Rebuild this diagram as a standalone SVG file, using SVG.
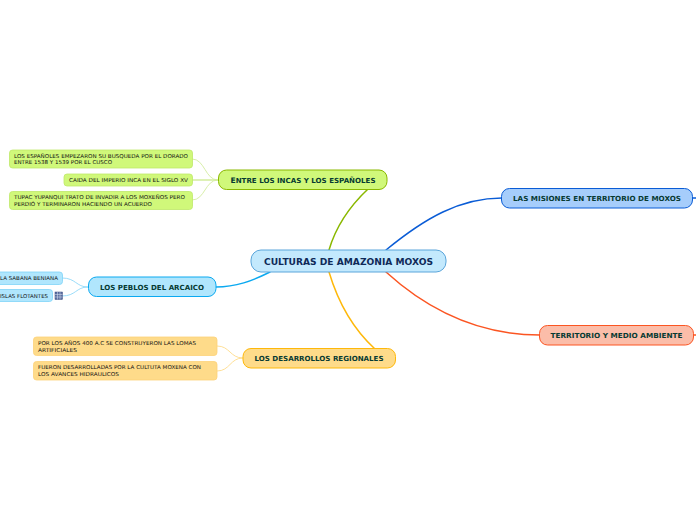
<svg xmlns="http://www.w3.org/2000/svg" width="696" height="520" viewBox="0 0 696 520">
<style>
text{font-family:"DejaVu Sans",Verdana,sans-serif}
.m{font-weight:bold;fill:#063a32;font-size:7px;text-anchor:middle}
.l{font-size:5.300px;fill:#111}
.c{fill:none;stroke-width:1.5;stroke-linecap:round}
.t{fill:none;stroke-width:.9}
.n{stroke-width:1}
.s{stroke-width:.8}
</style>
<rect width="696" height="520" fill="#fff"/>
<g id="connectors">
<path class="c" stroke="#8ab800" d="M329 250C336 226 350 206 368 189"/>
<path class="c" stroke="#0a5cd6" d="M386 250C425 218 460 198 502 198"/>
<path class="c" stroke="#0a5cd6" d="M692.500 198H696"/>
<path class="c" stroke="#fb5522" d="M386 272C430 312 480 335 540 335"/>
<path class="c" stroke="#fb5522" d="M693.500 335H696"/>
<path class="c" stroke="#feb80a" d="M329 272C338 302 352 328 375 349"/>
<path class="c" stroke="#0ba9f0" d="M270 272C252 281 236 287 216 287"/>
<path class="t" stroke="#d3ec9e" d="M218 180C205 180 205 159 192 159"/>
<path class="t" stroke="#d3ec9e" style="stroke-width:1.500" d="M218 180H192"/>
<path class="t" stroke="#d3ec9e" d="M218 180C205 180 205 200 192 200"/>
<path class="t" stroke="#8fd8f8" d="M88 287C76 287 76 278 62 278"/>
<path class="t" stroke="#8fd8f8" d="M88 287C76 287 76 296 62 296"/>
<path class="t" stroke="#fedb8a" d="M243 358C230 358 230 346 217 346"/>
<path class="t" stroke="#fedb8a" d="M243 358C230 358 230 371 217 371"/>
</g>
<g id="central"><rect class="n" x="251" y="250" width="195" height="22" rx="10" fill="#c3e9fd" stroke="#5aa5da"/>
<text x="348.500" y="265" text-anchor="middle" font-weight="bold" font-size="8.100" fill="#0f2a58" textLength="169" lengthAdjust="spacingAndGlyphs">CULTURAS DE AMAZONIA MOXOS</text></g>
<g id="entre"><rect class="n" x="218.500" y="170" width="168.500" height="19.500" rx="8" fill="#d0f87a" stroke="#8ab800"/>
<text class="m" x="303" y="183" textLength="145" lengthAdjust="spacingAndGlyphs"><tspan font-size="7.500">E</tspan>NTRE LOS INCAS Y LOS ESPAÑOLES</text></g>
<g id="misiones"><rect class="n" x="501.500" y="188.500" width="191" height="19.500" rx="8" fill="#a6cdfb" stroke="#0a5cd6"/>
<text class="m" x="597" y="201" textLength="168" lengthAdjust="spacingAndGlyphs">LAS MISIONES EN TERRITORIO DE MOXOS</text></g>
<g id="territorio"><rect class="n" x="539.500" y="325.500" width="154" height="19.500" rx="8" fill="#fbbda9" stroke="#fb5522"/>
<text class="m" x="616.500" y="338" textLength="132" lengthAdjust="spacingAndGlyphs">TERRITORIO Y MEDIO AMBIENTE</text></g>
<g id="regionales"><rect class="n" x="243" y="348.500" width="152.500" height="19.500" rx="8" fill="#fedb8a" stroke="#feb80a"/>
<text class="m" x="319" y="361" textLength="129" lengthAdjust="spacingAndGlyphs">LOS DESARROLLOS REGIONALES</text></g>
<g id="peblos"><rect class="n" x="88.500" y="277" width="127.500" height="19.500" rx="8" fill="#b0e6fd" stroke="#0ba9f0"/>
<text class="m" x="152" y="289.500" textLength="104" lengthAdjust="spacingAndGlyphs">LOS PEBLOS DEL ARCAICO</text></g>
<g id="leaf-espanoles"><rect class="s" x="9.500" y="150" width="183" height="18" rx="3" fill="#d0f87a" stroke="#bfe86a"/>
<text class="l" x="14" y="158" textLength="174" lengthAdjust="spacingAndGlyphs">LOS ESPAÑOLES EMPEZARON SU BUSQUEDA POR EL DORADO</text>
<text class="l" x="14" y="164" textLength="98" lengthAdjust="spacingAndGlyphs">ENTRE 1538 Y 1539 POR EL CUSCO</text></g>
<g id="leaf-caida"><rect class="s" x="64" y="174" width="128.500" height="12" rx="3" fill="#d0f87a" stroke="#bfe86a"/>
<text class="l" x="69" y="182" textLength="119" lengthAdjust="spacingAndGlyphs">CAIDA DEL IMPERIO INCA EN EL SIGLO XV</text></g>
<g id="leaf-tupac"><rect class="s" x="9.500" y="191.500" width="183" height="18" rx="3" fill="#d0f87a" stroke="#bfe86a"/>
<text class="l" x="14" y="199" textLength="171" lengthAdjust="spacingAndGlyphs">TUPAC YUPANQUI TRATO DE INVADIR A LOS MOXEÑOS PERO</text>
<text class="l" x="14" y="206" textLength="138" lengthAdjust="spacingAndGlyphs">PERDIÓ Y TERMINARON HACIENDO UN ACUERDO</text></g>
<g id="leaf-sabana"><rect class="s" x="-10" y="272" width="72.500" height="12.500" rx="3" fill="#b0e6fd" stroke="#7fd3f7"/>
<text class="l" x="0" y="280" textLength="58" lengthAdjust="spacingAndGlyphs">LA SABANA BENIANA</text></g>
<g id="leaf-islas"><rect class="s" x="-10" y="289.500" width="62.500" height="12" rx="3" fill="#b0e6fd" stroke="#7fd3f7"/>
<text class="l" x="0" y="298" textLength="48" lengthAdjust="spacingAndGlyphs">ISLAS FLOTANTES</text>
<g id="icon-table"><rect x="55" y="292" width="7.500" height="7.500" fill="#5c6fa0" stroke="#3a4a80" stroke-width=".5"/>
<path d="M57.500 292V299.500M60 292V299.500M55 294.500H62.500M55 297H62.500" stroke="#dfe6f5" stroke-width=".5"/></g></g>
<g id="leaf-lomas"><rect class="s" x="33.500" y="337" width="183.500" height="18.500" rx="3" fill="#fedb8a" stroke="#fdd27a"/>
<text class="l" x="38" y="345" textLength="158" lengthAdjust="spacingAndGlyphs">POR LOS AÑOS 400 A.C SE CONSTRUYERON LAS LOMAS</text>
<text class="l" x="38" y="352" textLength="39" lengthAdjust="spacingAndGlyphs">ARTIFICIALES</text></g>
<g id="leaf-fueron"><rect class="s" x="33.500" y="361.500" width="183.500" height="18.500" rx="3" fill="#fedb8a" stroke="#fdd27a"/>
<text class="l" x="38" y="369" textLength="163" lengthAdjust="spacingAndGlyphs">FUERON DESARROLLADAS POR LA CULTUTA MOXENA CON</text>
<text class="l" x="38" y="376" textLength="81" lengthAdjust="spacingAndGlyphs">LOS AVANCES HIDRAULICOS</text></g>
</svg>
